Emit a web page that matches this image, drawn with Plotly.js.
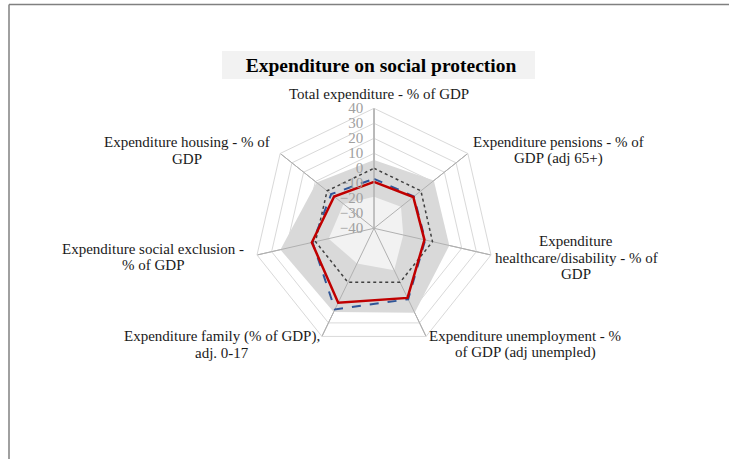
<!DOCTYPE html>
<html><head><meta charset="utf-8">
<script src="https://cdn.plot.ly/plotly-3.0.1.min.js"></script>
<style>html,body{margin:0;padding:0;background:#fff}#chart{width:729px;height:459px}</style>
</head><body><div id="chart"></div>
<script>
const categories = [
  "Total expenditure - % of GDP",
  "Expenditure pensions - % of GDP (adj 65+)",
  "Expenditure healthcare/disability - % of GDP",
  "Expenditure unemployment - % of GDP (adj unempled)",
  "Expenditure family (% of GDP), adj. 0-17",
  "Expenditure social exclusion - % of GDP",
  "Expenditure housing - % of GDP"
];
const labelLines = [
  ["Total expenditure - % of GDP"],
  ["Expenditure pensions - % of", "GDP (adj 65+)"],
  ["Expenditure", "healthcare/disability - % of", "GDP"],
  ["Expenditure unemployment - %", "of GDP (adj unempled)"],
  ["Expenditure family (% of GDP),", "adj. 0-17"],
  ["Expenditure social exclusion -", "% of GDP"],
  ["Expenditure housing - % of", "GDP"]
];
const maxValues = [5.5, 11, 11.5, 22.5, 22, 24, 9];
const minValues = [-19, -17, -20, -9, -14, -9, -14];
const referenceValues = [0, 0, 0, 0, 0, 0, 0];
const blueValues = [-7, -6, -5, 12.5, 20, 2, -3.5];
const redValues = [-9, -6.5, -5.5, 11.5, 15, 2.5, -6];
const radialTicks = [-40, -30, -20, -10, 0, 10, 20, 30, 40];

const serif = "Liberation Serif";
function closed(a) { return a.concat([a[0]]); }

const spokeTheta = [], spokeR = [];
categories.forEach(c => {
  spokeTheta.push(c, c, c);
  spokeR.push(radialTicks[0], radialTicks[radialTicks.length - 1], null);
});

const traces = [
  {type: "scatterpolar", r: closed(maxValues), theta: closed(categories), mode: "lines",
   fill: "toself", fillcolor: "#d9d9d9", line: {width: 0, color: "#d9d9d9"}, hoverinfo: "skip"},
  {type: "scatterpolar", r: closed(minValues), theta: closed(categories), mode: "lines",
   fill: "toself", fillcolor: "#f2f2f2", line: {width: 0, color: "#f2f2f2"}, hoverinfo: "skip"},
  {type: "scatterpolar", r: spokeR, theta: spokeTheta, mode: "lines", connectgaps: false,
   line: {width: 1, color: "#b0b0b0"}, hoverinfo: "skip"},
  {type: "scatterpolar", r: closed(referenceValues), theta: closed(categories), mode: "lines",
   line: {width: 1.5, color: "#404040", dash: "dot"}},
  {type: "scatterpolar", r: closed(blueValues), theta: closed(categories), mode: "lines",
   line: {width: 2, color: "#2f5597", dash: "dash"}},
  {type: "scatterpolar", r: closed(redValues), theta: closed(categories), mode: "lines",
   line: {width: 2.5, color: "#c00000"}}
];

// label block centres (px) and line spacing
const labelPos = [
  [379, 94], [558, 150.5], [576, 257.5], [525, 344.5], [222, 344.5], [153, 257], [187, 150.5]
];
const lineGap = 16.8;
const annotations = [];
labelLines.forEach((lines, i) => {
  const n = lines.length;
  lines.forEach((t, j) => {
    const yc = labelPos[i][1] + (j - (n - 1) / 2) * lineGap;
    annotations.push({
      text: t, xref: "paper", yref: "paper",
      x: labelPos[i][0] / 729, y: 1 - yc / 459,
      xanchor: "center", yanchor: "middle", showarrow: false,
      font: {family: serif, size: 15, color: "#1a1a1a"}
    });
  });
});

const cx = 374, cy = 228.3, R = 120;
const layout = {
  width: 729, height: 459,
  margin: {l: 0, r: 0, t: 0, b: 0},
  paper_bgcolor: "#ffffff",
  font: {family: serif},
  showlegend: false,
  title: {text: "<b>Expenditure on social protection</b>", x: 381 / 729, xanchor: "center",
          y: 1 - 65 / 459, yanchor: "middle", font: {family: serif, size: 19.5, color: "#000"}},
  polar: {
    domain: {x: [(cx - R) / 729, (cx + R) / 729], y: [1 - (cy + R) / 459, 1 - (cy - R) / 459]},
    bgcolor: "rgba(0,0,0,0)",
    gridshape: "linear",
    angularaxis: {type: "category", rotation: 90, direction: "clockwise", showticklabels: false,
      ticks: "", gridcolor: "#b0b0b0", linecolor: "#d9d9d9", linewidth: 1},
    radialaxis: {range: [-40, 40], tickvals: radialTicks, angle: 90, tickangle: 90,
      side: "counterclockwise", showline: true, linecolor: "#b0b0b0", gridcolor: "#d9d9d9",
      ticks: "outside", ticklen: 5, tickcolor: "rgba(0,0,0,0)",
      tickfont: {family: serif, size: 15, color: "#a0a0a0"}}
  },
  shapes: [
    {type: "rect", xref: "paper", yref: "paper", x0: 222 / 729, x1: 535 / 729,
     y0: 1 - 79 / 459, y1: 1 - 51 / 459, fillcolor: "#f2f2f2", line: {width: 0}, layer: "below"},
    {type: "line", xref: "paper", yref: "paper", x0: 9 / 729, x1: 1.01, y0: 1 - 4.5 / 459, y1: 1 - 4.5 / 459,
     line: {color: "#808080", width: 1.5}},
    {type: "line", xref: "paper", yref: "paper", x0: 9 / 729, x1: 9 / 729, y0: 1 - 4.5 / 459, y1: -0.01,
     line: {color: "#808080", width: 1.5}}
  ],
  annotations: annotations
};

Plotly.newPlot("chart", traces, layout, {displayModeBar: false, staticPlot: true});
</script>
</body></html>
